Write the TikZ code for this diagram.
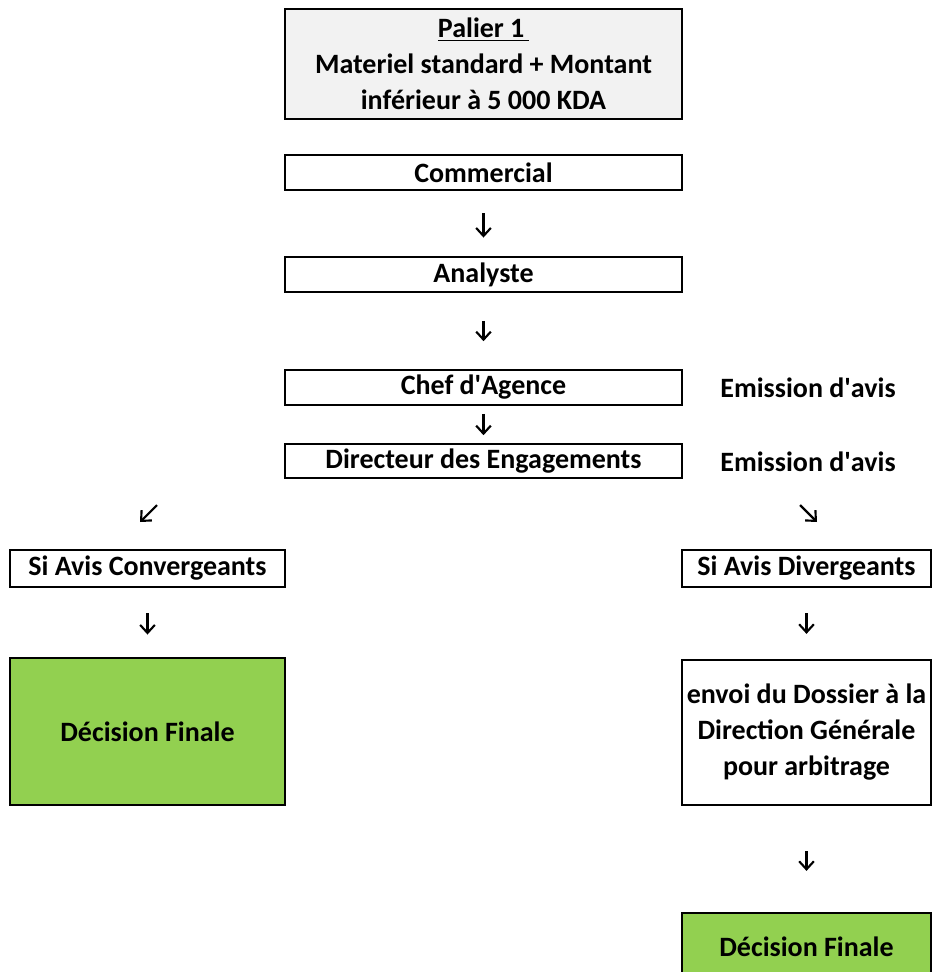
\documentclass[tikz,border=0pt]{standalone}
\usepackage{fontspec}
\setmainfont{Carlito}
\usetikzlibrary{arrows.meta}
\definecolor{paliergray}{HTML}{F2F2F2}
\definecolor{decgreen}{HTML}{92D050}

\begin{document}
\begin{tikzpicture}[x=0.75pt, y=-0.75pt,
  every node/.style={font=\fontsize{21}{27}\selectfont\bfseries, align=center, inner sep=0pt},
  etape/.style  ={draw, line width=1.2pt, fill=white, minimum width=297.75pt, minimum height=26.25pt},
  palier/.style ={etape, fill=paliergray, minimum height=82.5pt},
  avis/.style   ={draw, line width=1.2pt, fill=white, minimum height=27.75pt},
  decision/.style={draw, line width=1.2pt, fill=decgreen},
  dossier/.style={draw, line width=1.2pt, fill=white},
  fleche/.style ={-{Straight Barb[length=6pt, width=11pt, line width=1.6pt]}, line width=1.6pt},
]
\useasboundingbox (0,0) rectangle (933,972);

% colonne centrale
\node[palier] (pal) at (483.5,64)    {\underline{Palier 1\,}\\Materiel standard + Montant\\inférieur à 5 000 KDA};
\node[etape]  (com) at (483.5,172.5) {Commercial};
\node[etape]  (ana) at (483.5,274.5) {Analyste};
\node[etape]  (chef) at (483.5,387.5) {Chef d\textquotesingle Agence};
\node[etape, minimum height=25.5pt] (dir) at (483.5,461) {Directeur des Engagements};
\node (emi1) at (808,388) {Emission d\textquotesingle avis};
\node (emi2) at (808,462) {Emission d\textquotesingle avis};

% branches
\node[avis, minimum width=206.25pt] (conv) at (147.5,568.5) {Si Avis Convergeants};
\node[avis, minimum width=186.75pt] (div)  at (806.5,568.5) {Si Avis Divergeants};
\node[decision, minimum width=206.25pt, minimum height=110.25pt] (decL) at (147.5,731.5) {Décision Finale};
\node[dossier, minimum width=186.75pt, minimum height=108.75pt] (env) at (806.5,732.5) {envoi du Dossier à la\\Direction Générale\\pour arbitrage};
\node[decision, minimum width=186.75pt, minimum height=50.25pt] (decR) at (806.5,946.5) {Décision Finale};

\coordinate (convA) at (157,505);
\coordinate (convB) at (140,522);
\coordinate (divA)  at (800,505);
\coordinate (divB)  at (817,522);

\draw[fleche, shorten <=17pt, shorten >=14pt] (com) -- (ana);
\draw[fleche, shorten <=21pt, shorten >=21pt] (ana) -- (chef);
\draw[fleche, shorten <=6pt,  shorten >=6pt]  (chef) -- (dir);
\draw[fleche] (convA) -- (convB);
\draw[fleche] (divA) -- (divB);
\draw[fleche, shorten <=19pt, shorten >=17pt] (conv) -- (decL);
\draw[fleche, shorten <=19pt, shorten >=19pt] (div) -- (env);
\draw[fleche, shorten <=34pt, shorten >=31pt] (env) -- (decR);

\end{tikzpicture}
\end{document}
